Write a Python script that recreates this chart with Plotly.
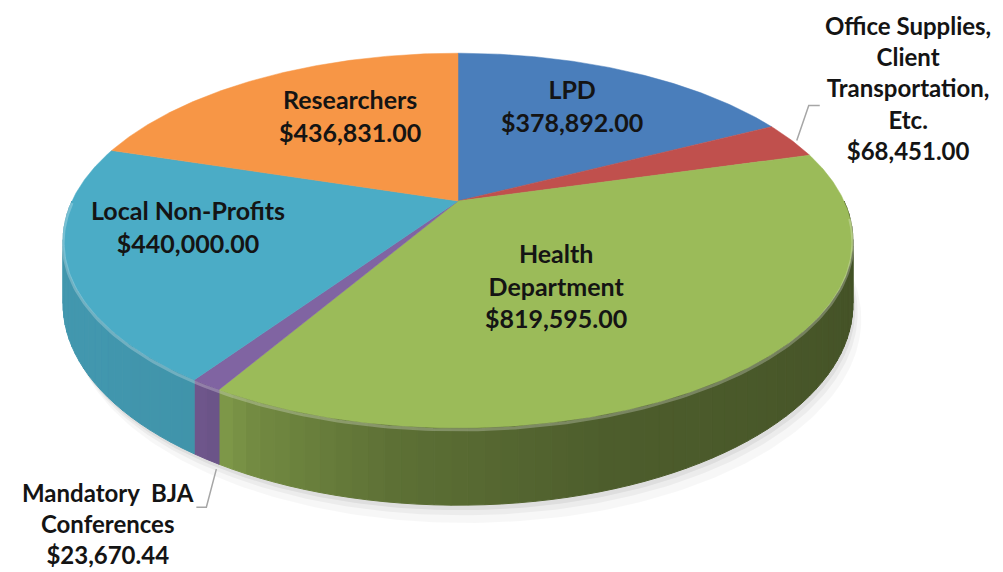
import numpy as np
import plotly.graph_objects as go

# ---------------- data ----------------
categories = ["LPD", "Office Supplies, Client Transportation, Etc.", "Health Department",
              "Mandatory BJA Conferences", "Local Non-Profits", "Researchers"]
values = [378892.00, 68451.00, 819595.00, 23670.44, 440000.00, 436831.00]
label_texts = ["LPD<br>$378,892.00",
               "Office Supplies,<br>Client<br>Transportation,<br>Etc.<br>$68,451.00",
               "Health<br>Department<br>$819,595.00",
               "Mandatory\u00a0\u00a0BJA<br>Conferences<br>$23,670.44",
               "Local Non-Profits<br>$440,000.00",
               "Researchers<br>$436,831.00"]

# ---------------- style ----------------
top_colors = ["#4A7EBB", "#C0504D", "#9BBB59", "#8064A2", "#4BACC6", "#F79646"]
label_pos = [(564, 97), (900, 80), (548, 277), (100, 515), (180, 218), (342, 107)]
label_size = [25, 24, 25, 24, 25, 25]

W, H = 1003, 572
CX, CY = 450, 193      # pie centre (screen px)
A, B = 386, 179        # radii
K = 0.211              # perspective factor
DEPTH = 61             # thickness


def project(phi_deg, drop=0.0):
    p = np.radians(phi_deg)
    X, Y = np.cos(p), np.sin(p)
    s = 1.0 / (1.0 + K * Y)
    return CX + A * X * s, CY - B * Y * s + drop * s


def hex_rgb(h):
    h = h.lstrip("#")
    return tuple(int(h[i:i + 2], 16) for i in (0, 2, 4))


def shade(h, f):
    r, g, b = hex_rgb(h)
    return "rgb(%d,%d,%d)" % (min(255, r * f), min(255, g * f), min(255, b * f))


total = sum(values)
cum = np.concatenate([[0], np.cumsum(values)]) / total
phi_start = 90 - 360 * cum[:-1]
phi_end = 90 - 360 * cum[1:]

fig = go.Figure()

# soft shadow
for off, alpha in [(14, 0.03), (8, 0.045), (4, 0.06)]:
    ang = np.linspace(0, -360, 361)
    sx, sy = project(ang, DEPTH + off)
    fig.add_trace(go.Scatter(x=sx + off * 0.6, y=sy, fill="toself", mode="lines",
                             line=dict(width=0), fillcolor="rgba(0,0,0,%.3f)" % alpha,
                             hoverinfo="skip", showlegend=False))

# sides (visible front half: phi in [-180, 0])
t_nodes = [0, 0.2, 0.32, 0.36, 0.46, 0.6, 1.0]
f_nodes = [0.88, 0.88, 0.86, 0.74, 0.60, 0.50, 0.42]
for i in range(len(values)):
    a0 = max(phi_end[i], -180)
    a1 = min(phi_start[i], 0)
    if a1 <= a0:
        continue
    n = max(1, int(np.ceil((a1 - a0) / 2.0)))
    edges = np.linspace(a1, a0, n + 1)
    for j in range(n):
        seg = np.linspace(edges[j], edges[j + 1], 6)
        tx, ty = project(seg)
        bx, by = project(seg[::-1], DEPTH)
        mid = 0.5 * (edges[j] + edges[j + 1])
        f = np.interp((mid + 180) / 180, t_nodes, f_nodes)
        col = shade(top_colors[i], f)
        fig.add_trace(go.Scatter(x=np.concatenate([tx, bx, tx[:1]]),
                                 y=np.concatenate([ty, by, ty[:1]]),
                                 fill="toself", mode="lines", fillcolor=col,
                                 line=dict(color=col, width=1),
                                 hoverinfo="skip", showlegend=False))

# top faces
for i in range(len(values)):
    arc = np.linspace(phi_start[i], phi_end[i], max(3, int(abs(phi_start[i] - phi_end[i]) * 2)))
    ax, ay = project(arc)
    fig.add_trace(go.Scatter(x=np.concatenate([[CX], ax, [CX]]),
                             y=np.concatenate([[CY], ay, [CY]]),
                             fill="toself", mode="lines", fillcolor=top_colors[i],
                             line=dict(color=top_colors[i], width=0.5),
                             name=categories[i], hoverinfo="name", showlegend=False))

# rim highlight on the front edge
hl = np.linspace(-180, -5, 200)
hx, hy = project(hl)
fig.add_trace(go.Scatter(x=hx, y=hy + 2, mode="lines",
                         line=dict(color="rgba(255,255,255,0.25)", width=3),
                         hoverinfo="skip", showlegend=False))

# leader lines (start on slice rim, derived from data)
mid_office = 0.5 * (phi_start[1] + phi_end[1])
ox, oy = project(mid_office)
fig.add_trace(go.Scatter(x=[ox + 5, ox + 17, ox + 28], y=[oy, oy - 35, oy - 35], mode="lines",
                         line=dict(color="#a6a6a6", width=1.5), hoverinfo="skip", showlegend=False))
mid_bja = 0.5 * (phi_start[3] + phi_end[3])
bx0, by0 = project(mid_bja, DEPTH)
fig.add_trace(go.Scatter(x=[bx0 + 10, bx0, bx0 - 10], y=[by0 + 10, by0 + 48, by0 + 48], mode="lines",
                         line=dict(color="#a6a6a6", width=1.5), hoverinfo="skip", showlegend=False))

for (lx, ly), txt, fs in zip(label_pos, label_texts, label_size):
    fig.add_annotation(x=lx, y=ly, text=txt, showarrow=False, xanchor="center", yanchor="middle",
                       align="center",
                       font=dict(family="Lato", size=fs, color="#141414", weight="bold"))

fig.update_xaxes(range=[0, W], visible=False, fixedrange=True)
fig.update_yaxes(range=[H, 0], visible=False, fixedrange=True)
fig.update_layout(width=W, height=H, margin=dict(l=0, r=0, t=0, b=0),
                  paper_bgcolor="white", plot_bgcolor="white", showlegend=False)

fig.write_html("out.html")
